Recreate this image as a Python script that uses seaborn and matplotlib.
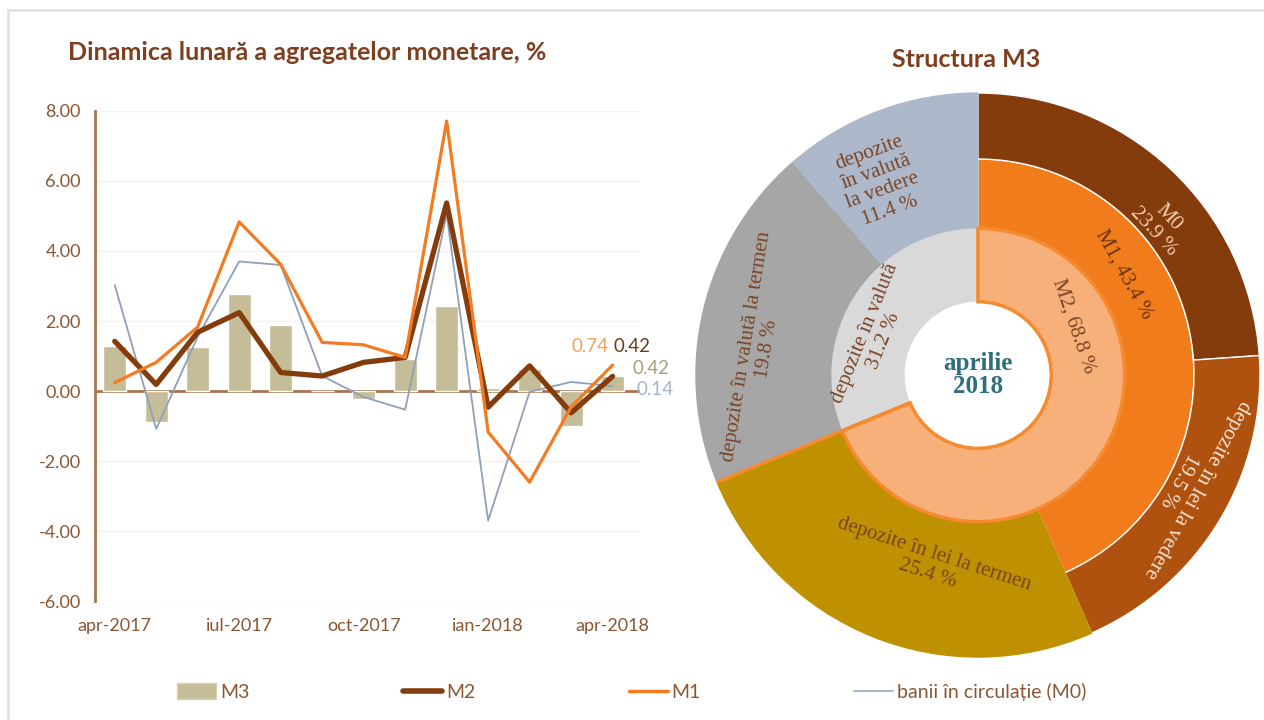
import numpy as np
import pandas as pd
import seaborn as sns
import matplotlib.pyplot as plt
from matplotlib.patches import Patch, Rectangle
from matplotlib.lines import Line2D

sns.set_theme(style="white")
plt.rcParams["font.family"] = ["Lato", "DejaVu Sans"]

BROWN_TXT = "#8B5634"

# --- left chart data (monthly change, %) ---
months = ["apr-2017", "mai-2017", "iun-2017", "iul-2017", "aug-2017", "sep-2017", "oct-2017",
          "nov-2017", "dec-2017", "ian-2018", "feb-2018", "mar-2018", "apr-2018"]
m3 = [1.28, -0.87, 1.25, 2.77, 1.88, 0.0, -0.22, 0.91, 2.42, 0.08, 0.63, -1.01, 0.42]
m2 = [1.42, 0.19, 1.68, 2.24, 0.53, 0.43, 0.82, 0.96, 5.37, -0.46, 0.72, -0.62, 0.42]
m1 = [0.24, 0.82, 1.83, 4.83, 3.62, 1.39, 1.32, 0.96, 7.71, -1.17, -2.60, -0.45, 0.74]
m0 = [3.03, -1.08, 1.55, 3.70, 3.60, 0.43, -0.17, -0.53, 5.05, -3.70, -0.02, 0.26, 0.14]
xtick_idx = [0, 3, 6, 9, 12]

# --- right chart data (structure of M3, %) ---
outer_labels = ["M0\n23.9 %", "depozite în lei la vedere\n19.5 %", "depozite în lei la termen\n25.4 %",
                "depozite în valută la termen\n19.8 %", "depozite\nîn valută\nla vedere\n11.4 %"]
outer_vals = [23.9, 19.5, 25.4, 19.8, 11.4]
middle_vals = [43.4, 25.4, 19.8, 11.4]
inner_vals = [68.8, 31.2]

C_M3, C_M2, C_M1, C_M0 = "#C4BD97", "#843C0C", "#F47B20", "#8FA0B9"
outer_colors = ["#843C0C", "#B0520F", "#BF9000", "#A6A6A6", "#ADB9CA"]
middle_colors = ["#F07C1C", "#BF9000", "#A6A6A6", "#ADB9CA"]
inner_colors = ["#F8B07A", "#D9D9D9"]

df = pd.DataFrame({"idx": np.arange(len(months)), "M3": m3, "M2": m2, "M1": m1, "M0": m0})

fig = plt.figure(figsize=(12.64, 7.2), dpi=100)
fig.patches.append(Rectangle((0.006, -0.01), 1.0, 0.996, transform=fig.transFigure,
                             fill=False, edgecolor="#E2E2E2", linewidth=2))

# ---------------- left: line/bar chart ----------------
ax = fig.add_axes([0.075, 0.165, 0.431, 0.681])
sns.barplot(data=df, x="idx", y="M3", native_scale=True, width=0.55, color=C_M3,
            saturation=1, errorbar=None, ax=ax, zorder=2)
sns.lineplot(data=df, x="idx", y="M0", color=C_M0, lw=1.3, ax=ax, zorder=3)
sns.lineplot(data=df, x="idx", y="M2", color=C_M2, lw=3.8, ax=ax, zorder=4)
sns.lineplot(data=df, x="idx", y="M1", color=C_M1, lw=2.3, ax=ax, zorder=5)

ax.set_xlim(-0.48, 12.65)
ax.set_ylim(-6, 8)
ax.set_yticks(np.arange(-6, 9, 2))
ax.set_yticklabels([f"{v:.2f}" for v in np.arange(-6, 9, 2)])
ax.set_xticks(xtick_idx)
ax.set_xticklabels([months[i] for i in xtick_idx])
ax.set_xlabel("")
ax.set_ylabel("")
for y in np.arange(-6, 9, 2):
    if y != 0:
        ax.axhline(y, color="#F8F0EB", lw=1, zorder=0)
ax.axhline(0, color="#A8744E", lw=2, zorder=1)
for s in ["top", "right", "bottom"]:
    ax.spines[s].set_visible(False)
ax.spines["left"].set_color("#A8744E")
ax.spines["left"].set_linewidth(2)
ax.tick_params(axis="both", length=0, labelsize=13, labelcolor=BROWN_TXT)
ax.tick_params(axis="x", pad=12)
ax.tick_params(axis="y", pad=10)

last = len(months) - 1
ax.annotate(f"{m1[last]:.2f}", (last, m1[last]), xytext=(-23, 19), textcoords="offset pixels",
            ha="center", va="center", fontsize=13.5, color="#F2A25E")
ax.annotate(f"{m2[last]:.2f}", (last, m2[last]), xytext=(19, 30), textcoords="offset pixels",
            ha="center", va="center", fontsize=13.5, color="#6B3A1E")
ax.annotate(f"{m3[last]:.2f}", (last, m3[last]), xytext=(38, 8), textcoords="offset pixels",
            ha="center", va="center", fontsize=13.5, color="#A8A07C")
ax.annotate(f"{m0[last]:.2f}", (last, m0[last]), xytext=(42, -3), textcoords="offset pixels",
            ha="center", va="center", fontsize=13.5, color="#A5B5CC")

fig.text(0.054, 0.927, "Dinamica lunară a agregatelor monetare, %", fontsize=18,
         fontweight="bold", color="#7E3F1E", ha="left", va="center")

# ---------------- right: sunburst ----------------
ax2 = fig.add_axes([0.5506, 0.0875, 0.4462, 0.7833])
ax2.set_aspect("equal")
r_hole, r_in, r_mid = 0.26, 0.52, 0.766

wm, _ = ax2.pie(middle_vals, radius=r_mid, colors=middle_colors, startangle=90, counterclock=False,
                wedgeprops=dict(width=r_mid - r_in, linewidth=1))
for w, c in zip(wm, middle_colors):
    w.set_edgecolor("white" if c == "#F07C1C" else c)
wo, _ = ax2.pie(outer_vals, radius=1.0, colors=outer_colors, startangle=90, counterclock=False,
                wedgeprops=dict(width=1 - r_mid, linewidth=1))
for w, c in zip(wo, outer_colors):
    w.set_edgecolor("white" if c in ("#843C0C", "#B0520F") else c)
wi, _ = ax2.pie(inner_vals, radius=r_in, colors=inner_colors, startangle=90, counterclock=False,
                wedgeprops=dict(width=r_in - r_hole, linewidth=0))
wi[0].set_edgecolor("#F58A2E")
wi[0].set_linewidth(2.5)
wi[0].set_zorder(3)

# orange boundary where M2 ends
th = np.deg2rad(90 - 360 * inner_vals[0] / 100)
ax2.plot([r_hole * np.cos(th), np.cos(th)], [r_hole * np.sin(th), np.sin(th)],
         color="#F58A2E", lw=2.5, zorder=4, solid_capstyle="butt")
ax2.set_xlim(-1, 1)
ax2.set_ylim(-1, 1)

# label placement: (text, clockwise angle from top, radius, rotation, color)
LBL = "#7A4526"
labels = [
    (outer_labels[0], 50.5, 0.84, -47, "#F3CFAE"),
    (outer_labels[1], 117.6, 0.84, -119, "#F6E6D8"),
    (outer_labels[2], 194, 0.69, -18, LBL),
    (outer_labels[3], 277, 0.79, 81, LBL),
    (outer_labels[4], 333, 0.77, 20, LBL),
    ("M1, 43.4 %", 55.5, 0.63, -61, "#6B3410"),
    ("M2, 68.8 %", 63, 0.38, -71, LBL),
    ("depozite în valută\n31.2 %", 290, 0.39, 68, LBL),
]
for txt, ang, r, rot, col in labels:
    a = np.deg2rad(90 - ang)
    ax2.text(r * np.cos(a), r * np.sin(a), txt, rotation=rot, rotation_mode="anchor",
             ha="center", va="center", fontsize=15, color=col, family="Liberation Serif",
             linespacing=1.1, zorder=6)
ax2.text(0, 0, "aprilie\n2018", ha="center", va="center", fontsize=18, fontweight="bold",
         color="#2F6E7B", family="Liberation Serif", linespacing=1.05, zorder=6)

fig.text(0.764, 0.918, "Structura M3", fontsize=18, fontweight="bold", color="#7E3F1E",
         ha="center", va="center")

# ---------------- legend ----------------
handles = [Patch(facecolor=C_M3, edgecolor="#D8D2B8"),
           Line2D([], [], color=C_M2, lw=4),
           Line2D([], [], color=C_M1, lw=2.5),
           Line2D([], [], color="#A9B6D0", lw=1.5)]
names = ["M3", "M2", "M1", "banii în circulație (M0)"]
leg = fig.legend(handles, names, loc="center", bbox_to_anchor=(0.5, 0.039), ncol=4, frameon=False,
                 fontsize=14, handlelength=2.0, handletextpad=0.2, columnspacing=7.9,
                 handleheight=0.9)
for t in leg.get_texts():
    t.set_color(BROWN_TXT)

fig.savefig("out.png", dpi=100)
